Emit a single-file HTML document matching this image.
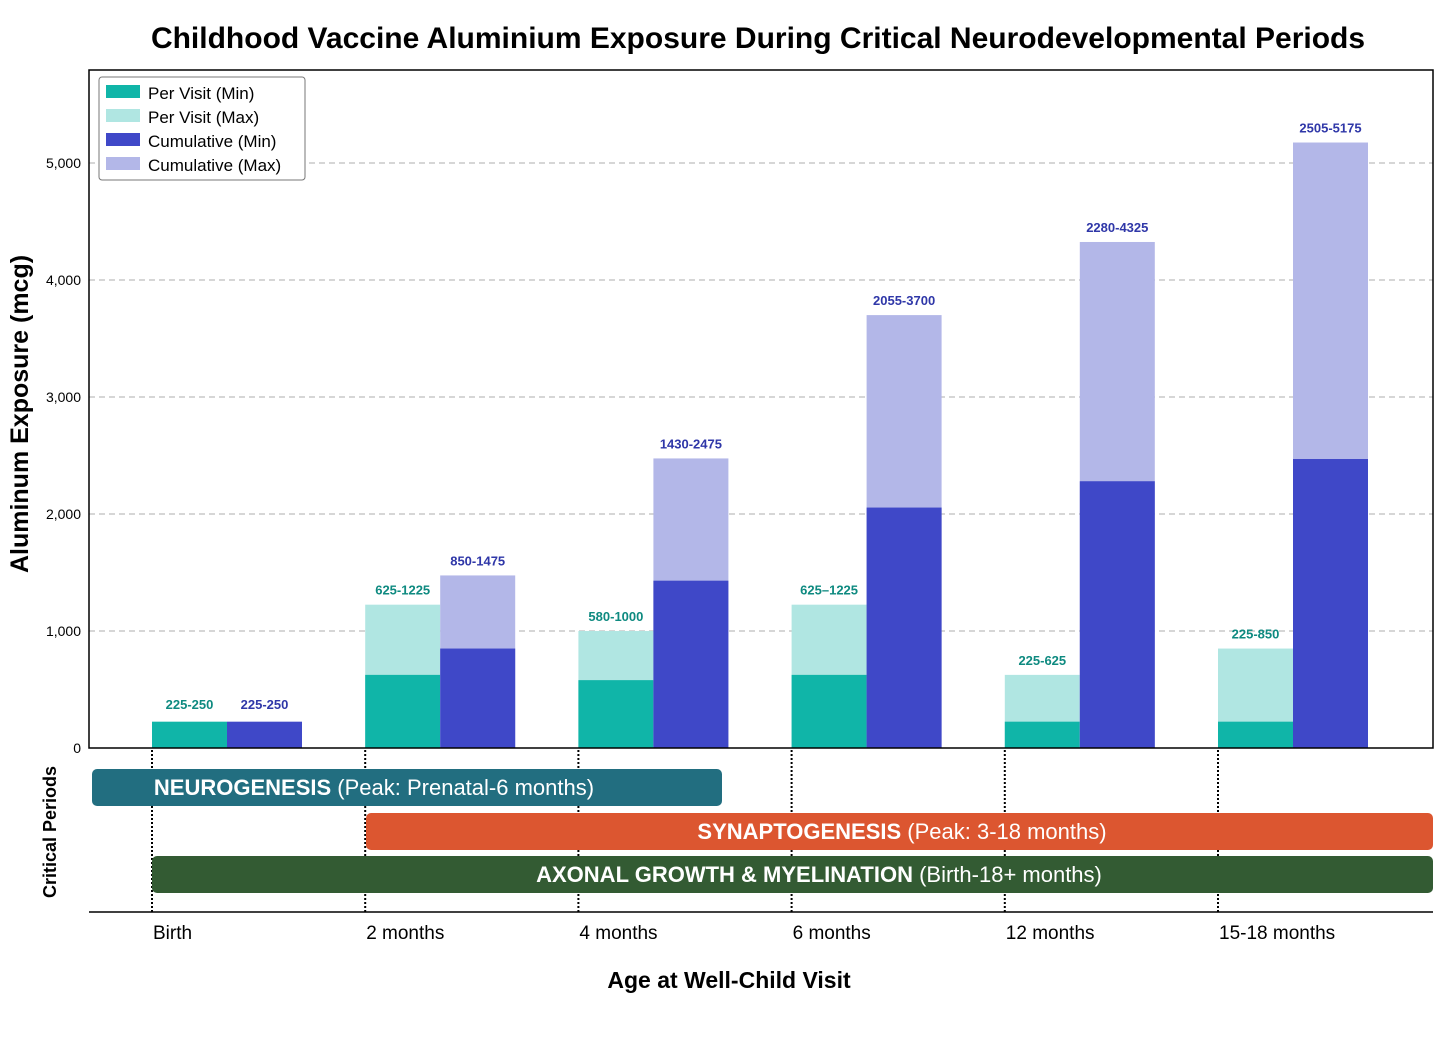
<!DOCTYPE html>
<html><head><meta charset="utf-8"><style>
body{margin:0;background:#fff;font-family:"Liberation Sans",sans-serif}
svg text{font-family:"Liberation Sans",sans-serif}
</style></head><body>
<svg width="1456" height="1033" xmlns="http://www.w3.org/2000/svg">
<text x="758" y="48" text-anchor="middle" font-size="30" font-weight="bold">Childhood Vaccine Aluminium Exposure During Critical Neurodevelopmental Periods</text>
<g id="grid"></g>
<g id="bars"></g>
<rect x="89" y="70" width="1344" height="678" fill="none" stroke="#000" stroke-width="1.5"/>
<text transform="translate(28,414) rotate(-90)" text-anchor="middle" font-size="25" font-weight="bold">Aluminum Exposure (mcg)</text>
<text transform="translate(56,832) rotate(-90)" text-anchor="middle" font-size="18" font-weight="bold">Critical Periods</text>
<line x1="89" y1="912" x2="1433" y2="912" stroke="#000" stroke-width="1.5"/>
<g id="periods"></g>
<text x="729" y="988" text-anchor="middle" font-size="23" font-weight="bold">Age at Well-Child Visit</text>
<g>
<rect x="99" y="77" width="206" height="103" rx="3" fill="#fff" stroke="#777"/>
<rect x="106" y="85" width="34" height="13" fill="#10b5a8"/>
<text x="148" y="99" font-size="17">Per Visit (Min)</text>
<rect x="106" y="109" width="34" height="13" fill="#b0e6e2"/>
<text x="148" y="123" font-size="17">Per Visit (Max)</text>
<rect x="106" y="133" width="34" height="13" fill="#3f48c8"/>
<text x="148" y="147" font-size="17">Cumulative (Min)</text>
<rect x="106" y="157" width="34" height="13" fill="#b3b7e8"/>
<text x="148" y="171" font-size="17">Cumulative (Max)</text>
</g>
</svg>
<script>
const categories=["Birth","2 months","4 months","6 months","12 months","15-18 months"];
const perVisitMin=[225,625,580,625,225,225];
const perVisitMax=[250,1225,1000,1225,625,850];
const cumMin=[225,850,1430,2055,2280,2470];
const cumMax=[250,1475,2475,3700,4325,5175];
const perVisitLabels=["225-250","625-1225","580-1000","625–1225","225-625","225-850"];
const cumLabels=["225-250","850-1475","1430-2475","2055-3700","2280-4325","2505-5175"];
const yTicks=[0,1000,2000,3000,4000,5000];
const yTickLabels=["0","1,000","2,000","3,000","4,000","5,000"];
const NS="http://www.w3.org/2000/svg";
const y=v=>748-v*0.117;
const x0=i=>152+i*213.2;
const bw=75;
function mk(tag,attrs,parent,txt){const e=document.createElementNS(NS,tag);for(const k in attrs)e.setAttribute(k,attrs[k]);if(txt!==undefined)e.textContent=txt;parent.appendChild(e);return e;}
const grid=document.getElementById('grid'),bars=document.getElementById('bars'),per=document.getElementById('periods');
yTicks.forEach((t,i)=>{
 if(t>0){const l=mk('line',{x1:89,x2:1433,y1:y(t),y2:y(t),stroke:'#c8c8c8','stroke-dasharray':'6,4','stroke-width':1.5},grid);
 
 }
 const tx=mk('text',{x:81,y:y(t)+5,'text-anchor':'end','font-size':14},grid,yTickLabels[i]);
 
 
});
categories.forEach((c,i)=>{
 const a=x0(i),b=a+bw;
 const showMax=(perVisitMax[i]-perVisitMin[i])>50;
 let r=mk('rect',{x:a,y:y(perVisitMax[i]),width:bw,height:y(0)-y(perVisitMax[i]),fill:showMax?'#b0e6e2':'none'},bars);
 
 
 r=mk('rect',{x:a,y:y(perVisitMin[i]),width:bw,height:y(0)-y(perVisitMin[i]),fill:'#10b5a8'},bars);
 
 
 r=mk('rect',{x:b,y:y(cumMax[i]),width:bw,height:y(0)-y(cumMax[i]),fill:(cumMax[i]-cumMin[i])>50?'#b3b7e8':'none'},bars);
 
 
 r=mk('rect',{x:b,y:y(cumMin[i]),width:bw,height:y(0)-y(cumMin[i]),fill:'#3f48c8'},bars);
 
 
 let t=mk('text',{x:a+bw/2,y:y(perVisitMax[i])-10,'text-anchor':'middle','font-size':13,'font-weight':'bold',fill:'#0e8a80'},bars,perVisitLabels[i]);
 
 
 t=mk('text',{x:b+bw/2,y:y(cumMax[i])-10,'text-anchor':'middle','font-size':13,'font-weight':'bold',fill:'#2f37a8'},bars,cumLabels[i]);
 
 
 const dl=mk('line',{x1:a,x2:a,y1:750,y2:912,stroke:'#000','stroke-dasharray':'2,2','stroke-width':2},per);
 
 
 t=mk('text',{x:a+1,y:939,'font-size':19},per,c);
 
 
});
const bands=[
 {x:92,w:630,y:769,c:'#226e80',b:'NEUROGENESIS',n:' (Peak: Prenatal-6 months)',tx:374,name:'neurogenesis-band'},
 {x:366,w:1067,y:813,c:'#dc5630',b:'SYNAPTOGENESIS',n:' (Peak: 3-18 months)',tx:902,name:'synaptogenesis-band'},
 {x:152,w:1281,y:856,c:'#335b33',b:'AXONAL GROWTH & MYELINATION',n:' (Birth-18+ months)',tx:819,name:'axonal-growth-band'}];
bands.forEach(d=>{
 const r=mk('rect',{x:d.x,y:d.y,width:d.w,height:37,rx:5,fill:d.c},per);
 
 
 const t=mk('text',{x:d.tx,y:d.y+26,'text-anchor':'middle','font-size':22,fill:'#fff'},per);
 
 
 mk('tspan',{'font-weight':'bold'},t,d.b);mk('tspan',{},t,d.n);
});
</script>
</body></html>
